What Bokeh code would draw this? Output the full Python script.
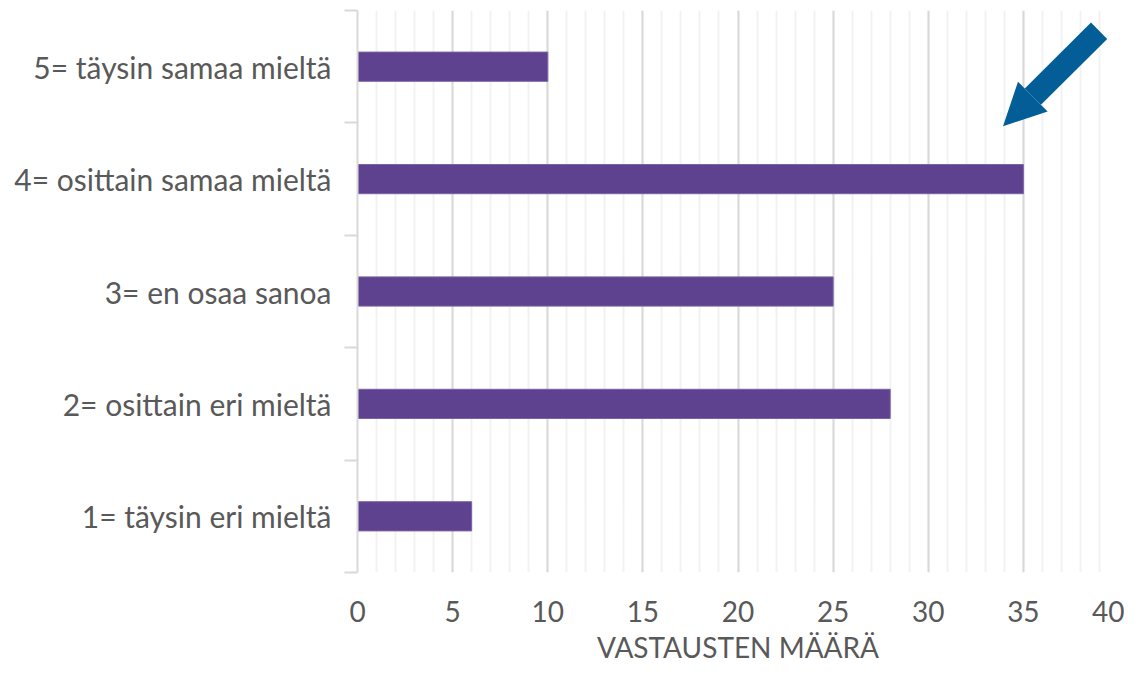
from bokeh.plotting import figure
from bokeh.models import FixedTicker, Range1d, Arrow, NormalHead
from bokeh.embed import file_html
from bokeh.resources import INLINE

categories = ["1= täysin eri mieltä", "2= osittain eri mieltä", "3= en osaa sanoa",
              "4= osittain samaa mieltä", "5= täysin samaa mieltä"]
values = [6, 28, 25, 35, 10]
x_ticks = [0, 5, 10, 15, 20, 25, 30, 35, 40]
x_title = "VASTAUSTEN MÄÄRÄ"

FONT = "Lato"
TXT = "#595959"

positions = list(range(1, len(categories) + 1))

p = figure(width=1124, height=666, output_backend="svg", toolbar_location=None,
           x_range=Range1d(0, 40), y_range=Range1d(0.5, len(categories) + 0.5),
           min_border_left=357, min_border_right=6, min_border_top=10, min_border_bottom=80)
p.outline_line_color = None

p.hbar(y=positions, right=values, left=0, height=0.26,
       fill_color="#5F428F", line_color="#7A62A6", line_width=1)

# x axis
p.xaxis.ticker = FixedTicker(ticks=x_ticks, minor_ticks=list(range(0, 41)))
p.xaxis.axis_line_color = None
p.xaxis.major_tick_line_color = None
p.xaxis.minor_tick_line_color = None
p.xaxis.major_label_text_font = FONT
p.xaxis.major_label_text_font_size = "28px"
p.xaxis.major_label_text_color = TXT
p.xaxis.major_label_standoff = 22
p.xaxis.axis_label = x_title
p.xaxis.axis_label_text_font = FONT
p.xaxis.axis_label_text_font_size = "28px"
p.xaxis.axis_label_text_font_style = "normal"
p.xaxis.axis_label_text_color = TXT
p.xaxis.axis_label_standoff = 5

p.xgrid.grid_line_color = "#D9D9D9"
p.xgrid.grid_line_width = 2
p.xgrid.minor_grid_line_color = "#F2F2F2"
p.xgrid.minor_grid_line_width = 2
p.ygrid.grid_line_color = None

# y axis
p.yaxis.ticker = FixedTicker(ticks=positions,
                             minor_ticks=[i + 0.5 for i in range(0, len(categories) + 1)])
p.yaxis.major_label_overrides = {pos: lab for pos, lab in zip(positions, categories)}
p.yaxis.axis_line_color = "#D9D9D9"
p.yaxis.axis_line_width = 2
p.yaxis.major_tick_line_color = None
p.yaxis.major_tick_out = 0
p.yaxis.major_tick_in = 0
p.yaxis.minor_tick_line_color = "#D9D9D9"
p.yaxis.minor_tick_line_width = 2
p.yaxis.minor_tick_out = 13
p.yaxis.minor_tick_in = 0
p.yaxis.major_label_text_font = FONT
p.yaxis.major_label_text_font_size = "30px"
p.yaxis.major_label_text_color = TXT
p.yaxis.major_label_standoff = 13

arrow = Arrow(end=NormalHead(size=42, fill_color="#035D96", line_color="#035D96", line_width=0),
              x_start=38.98, y_start=5.32, x_end=33.93, y_end=4.47,
              line_color="#035D96", line_width=23)
p.add_layout(arrow)

open("out.html", "w").write(file_html(p, INLINE))
